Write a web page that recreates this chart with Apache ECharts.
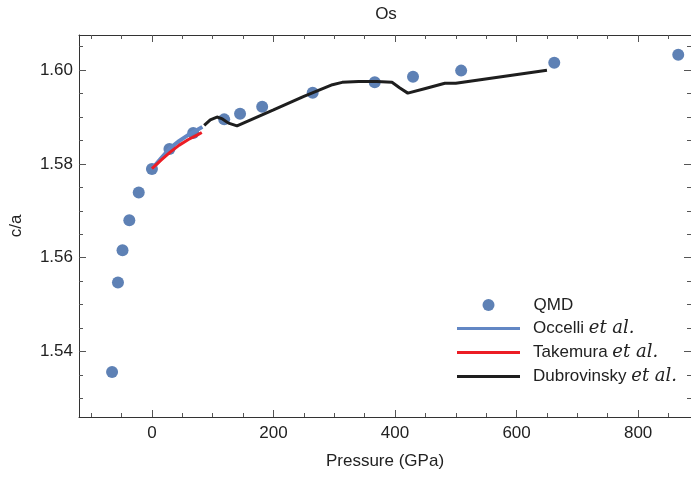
<!DOCTYPE html>
<html><head><meta charset="utf-8">
<script src="https://cdn.jsdelivr.net/npm/echarts@6/dist/echarts.min.js"></script>
<style>html,body{margin:0;padding:0;background:#fff}#c{width:691px;height:477px}</style>
</head><body><div id="c"></div>
<script>
// ---- data ----
const qmdPressure = [-65.6, -55.9, -48.4, -37.2, -21.7, 0, 28.8, 67.9, 118.9, 145, 181.4, 264.5, 366.6, 429.6, 508.8, 662, 866];
const qmdCA       = [1.5356, 1.5547, 1.5616, 1.5680, 1.5739, 1.5789, 1.5832, 1.5866, 1.5895, 1.5907, 1.5922, 1.5952, 1.5974, 1.5986, 1.5999, 1.6016, 1.6033];

const occelliPressure = [0, 15, 30, 45, 60, 75, 83];
const occelliCA       = [1.5789, 1.5812, 1.5834, 1.5849, 1.5862, 1.5873, 1.5879];

const takemuraPressure = [0, 15, 30, 45, 60, 75, 82];
const takemuraCA       = [1.5790, 1.5808, 1.5825, 1.5840, 1.5852, 1.5862, 1.5867];

const dubrovinskyPressure = [86, 96, 107, 116, 126, 140, 200, 250, 297, 313, 340, 370, 395, 408, 421, 450, 482, 500, 650];
const dubrovinskyCA       = [1.5882, 1.5894, 1.5900, 1.5896, 1.5887, 1.5881, 1.5915, 1.5944, 1.5969, 1.5974, 1.5976, 1.5976, 1.5974, 1.5962, 1.5951, 1.5961, 1.5972, 1.5972, 1.6000];

const seriesNames = ['QMD', 'Occelli et al.', 'Takemura et al.', 'Dubrovinsky et al.'];

const xMajorTicks = [0, 200, 400, 600, 800];
const xMinorTicks = [-100, -50, 50, 100, 150, 250, 300, 350, 450, 500, 550, 650, 700, 750, 850];
const yMajorTicks = [1.54, 1.56, 1.58, 1.60];
const yMinorTicks = [1.530, 1.535, 1.545, 1.550, 1.555, 1.565, 1.570, 1.575, 1.585, 1.590, 1.595, 1.605];

const zip = (a, b) => a.map((v, i) => [v, b[i]]);

// ---- chart ----
const FONT = 'Liberation Sans, Arial, sans-serif';
const X_MIN = -120, X_MAX = 887, Y_MIN = 1.526, Y_MAX = 1.6075;
const LINE_ICON = 'path://M0,0H63V3H0Z';

function xAxisDef(position, vals, len, showLine, showLabel, extra) {
  return Object.assign({
    type: 'value', gridIndex: 0, position: position, min: X_MIN, max: X_MAX,
    axisLine: { show: showLine, onZero: false, lineStyle: { color: '#333', width: 1 } },
    axisTick: { show: true, inside: true, length: len, customValues: vals, lineStyle: { color: '#555', width: 1 } },
    axisLabel: { show: showLabel, customValues: vals, margin: 8, fontSize: 17, color: '#222', fontFamily: FONT,
                 formatter: v => String(Math.round(v)) },
    splitLine: { show: false }, minorTick: { show: false }
  }, extra || {});
}
function yAxisDef(position, vals, len, showLine, showLabel, extra) {
  return Object.assign({
    type: 'value', gridIndex: 0, position: position, min: Y_MIN, max: Y_MAX,
    axisLine: { show: showLine, onZero: false, lineStyle: { color: '#333', width: 1 } },
    axisTick: { show: true, inside: true, length: len, customValues: vals, lineStyle: { color: '#555', width: 1 } },
    axisLabel: { show: showLabel, customValues: vals, margin: 6, fontSize: 17, color: '#222', fontFamily: FONT,
                 formatter: v => v.toFixed(2) },
    splitLine: { show: false }, minorTick: { show: false }
  }, extra || {});
}

const chart = echarts.init(document.getElementById('c'), null, { renderer: 'canvas' });
chart.setOption({
  animation: false,
  backgroundColor: '#fff',
  title: {
    text: 'Os', left: 386, top: 6, padding: 0, textAlign: 'center',
    textStyle: { fontSize: 17, fontWeight: 'normal', color: '#222', fontFamily: FONT }
  },
  grid: { left: 77, top: 35, width: 618, height: 382, containLabel: false },
  xAxis: [
    xAxisDef('bottom', xMajorTicks, 7, true, true, {
      name: 'Pressure (GPa)', nameLocation: 'middle', nameGap: 36,
      nameTextStyle: { fontSize: 17, color: '#222', fontFamily: FONT }
    }),
    xAxisDef('bottom', xMinorTicks, 4, false, false),
    xAxisDef('top', xMajorTicks, 7, true, false),
    xAxisDef('top', xMinorTicks, 4, false, false)
  ],
  yAxis: [
    yAxisDef('left', yMajorTicks, 7, true, true, {
      name: 'c/a', nameLocation: 'middle', nameGap: 54, nameRotate: 90,
      nameTextStyle: { fontSize: 17, color: '#222', fontFamily: FONT }
    }),
    yAxisDef('left', yMinorTicks, 4, false, false),
    yAxisDef('right', yMajorTicks, 7, true, false),
    yAxisDef('right', yMinorTicks, 4, false, false)
  ],
  legend: [
    {
      data: [seriesNames[0]], orient: 'vertical', left: 482.5, top: 296.5, padding: 0,
      itemWidth: 12, itemHeight: 12, icon: 'circle', selectedMode: false,
      textStyle: { fontSize: 17, color: '#222', fontFamily: FONT, lineHeight: 17, padding: [0, 0, 0, 34] }
    },
    {
      data: seriesNames.slice(1).map(n => ({ name: n, icon: LINE_ICON })),
      orient: 'vertical', left: 457, top: 319.5, padding: 0,
      itemWidth: 63, itemHeight: 3, itemGap: 6, selectedMode: false,
      formatter: function (name) {
        const base = name.replace(' et al.', ' ');
        return '{n|' + base + '}{i|et al.}';
      },
      textStyle: {
        fontSize: 17, color: '#222', fontFamily: FONT, lineHeight: 17, padding: [0, 0, 0, 8],
        rich: {
          n: { fontSize: 17, color: '#222', fontFamily: FONT, lineHeight: 17 },
          i: { fontSize: 18, color: '#222', fontFamily: 'DejaVu Serif, serif', fontStyle: 'italic', lineHeight: 17 }
        }
      }
    }
  ],
  series: [
    {
      name: seriesNames[0], type: 'scatter', xAxisIndex: 0, yAxisIndex: 0,
      data: zip(qmdPressure, qmdCA), symbol: 'circle', symbolSize: 12,
      itemStyle: { color: '#5E81B5', opacity: 1 }, z: 2
    },
    {
      name: seriesNames[1], type: 'line', xAxisIndex: 0, yAxisIndex: 0,
      data: zip(occelliPressure, occelliCA), symbol: 'none', smooth: false,
      lineStyle: { color: '#6287C4', width: 4 }, itemStyle: { color: '#6287C4' }, z: 3
    },
    {
      name: seriesNames[2], type: 'line', xAxisIndex: 0, yAxisIndex: 0,
      data: zip(takemuraPressure, takemuraCA), symbol: 'none', smooth: false,
      lineStyle: { color: '#EC1C24', width: 3 }, itemStyle: { color: '#EC1C24' }, z: 4
    },
    {
      name: seriesNames[3], type: 'line', xAxisIndex: 0, yAxisIndex: 0,
      data: zip(dubrovinskyPressure, dubrovinskyCA), symbol: 'none', smooth: false,
      lineStyle: { color: '#1E1E1E', width: 3 }, itemStyle: { color: '#1E1E1E' }, z: 5
    }
  ]
});
</script>
</body></html>
